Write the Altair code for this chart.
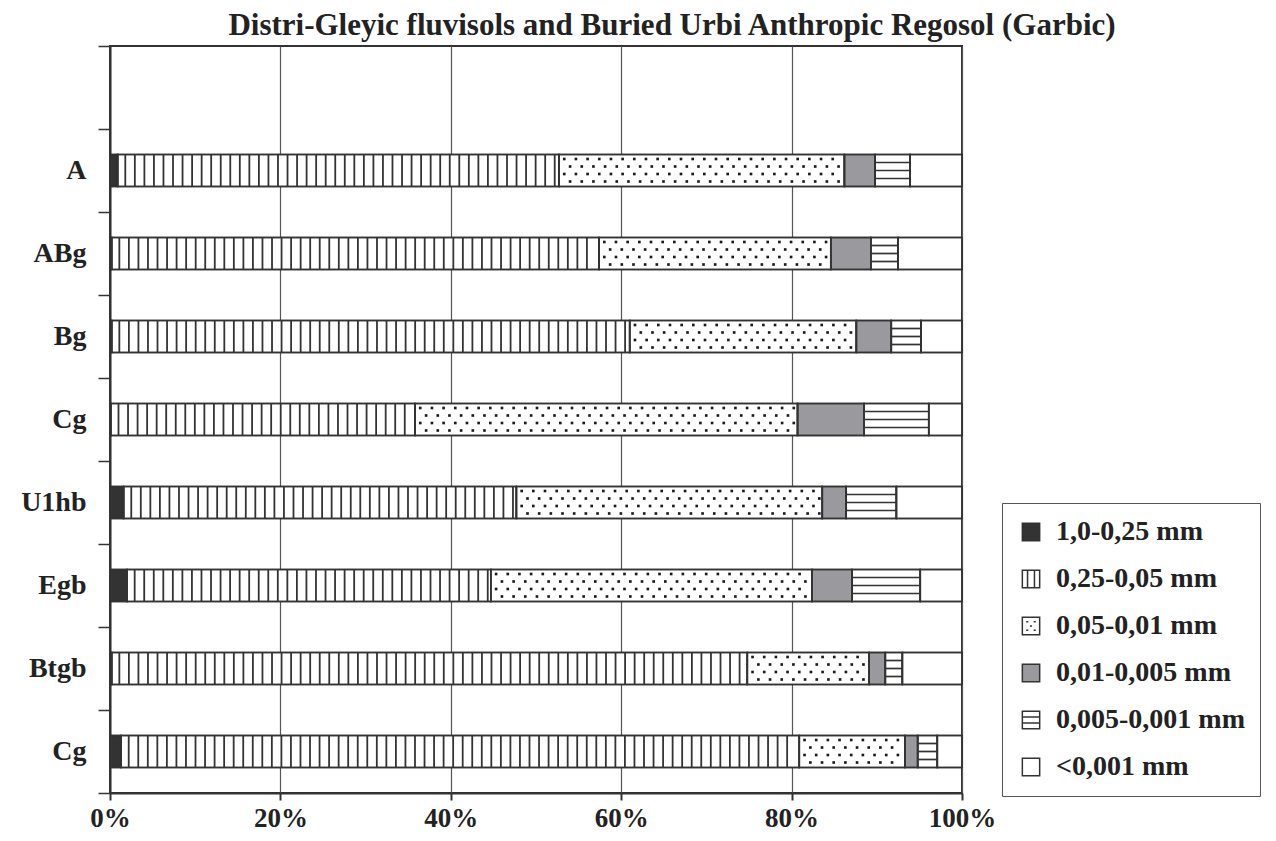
import altair as alt
import pandas as pd

# ---------------- data ----------------
horizons = ["A", "ABg", "Bg", "Cg", "U1hb", "Egb", "Btgb", "Cg"]
classes = ["1,0-0,25 mm", "0,25-0,05 mm", "0,05-0,01 mm",
           "0,01-0,005 mm", "0,005-0,001 mm", "<0,001 mm"]
sand_coarse = [0.9, 0.2, 0.2, 0.1, 1.6, 2.0, 0.2, 1.3]        # 1,0-0,25 mm
sand_fine = [51.8, 57.2, 60.8, 35.7, 46.1, 42.7, 74.6, 79.6]   # 0,25-0,05 mm
silt_coarse = [33.5, 27.2, 26.6, 44.9, 35.9, 37.7, 14.3, 12.4] # 0,05-0,01 mm
silt_medium = [3.6, 4.7, 4.1, 7.8, 2.8, 4.7, 1.9, 1.5]         # 0,01-0,005 mm
silt_fine = [4.1, 3.2, 3.5, 7.6, 5.9, 8.0, 2.0, 2.3]           # 0,005-0,001 mm
clay = [6.1, 7.5, 4.8, 3.9, 7.7, 4.9, 7.0, 2.9]                # <0,001 mm
series = [sand_coarse, sand_fine, silt_coarse, silt_medium, silt_fine, clay]

# ---------------- tables built from the arrays ----------------
keys = [f"{i + 1}|{h}" for i, h in enumerate(horizons)]
domain_keys = ["0|"] + keys

seg_rows = []
for i, k in enumerate(keys):
    s = 0.0
    for c, vals in zip(classes, series):
        v = vals[i]
        seg_rows.append({"key": k, "cls": c, "start": s, "end": s + v, "pct": v})
        s += v
seg = pd.DataFrame(seg_rows)

V_STEP = 1.12   # spacing of vertical hatch (in % units)
D_STEP = 1.37   # spacing of dots (in % units)
DOT_ROWS = [-11.5, -4.0, 3.5, 11.0]
HLINES = [-8, 0, 8]

vx, dots, hseg = [], [], []
for _, r in seg.iterrows():
    s, e = r["start"], r["end"]
    if r["cls"] == classes[1]:
        x = s + V_STEP * 0.8
        while x < e - 0.35:
            vx.append({"key": r["key"], "x": x})
            x += V_STEP
    elif r["cls"] == classes[2]:
        for ri in range(len(DOT_ROWS)):
            x = s + D_STEP * (0.45 + 0.5 * (ri % 2))
            while x < e - 0.3:
                dots.append({"key": r["key"], "x": x, "row": ri})
                x += D_STEP
    elif r["cls"] == classes[4]:
        hseg.append({"key": r["key"], "start": s, "end": e})
vx = pd.DataFrame(vx)
dots = pd.DataFrame(dots)
hseg = pd.DataFrame(hseg)

# ---------------- styling ----------------
FONT = "Liberation Serif"
INK = "#333333"
fill_range = ["#333333", "#ffffff", "#ffffff", "#9a9a9e", "#ffffff", "#ffffff"]
SQ = "M-1,-1H1V1H-1Z"
shape_range = [
    SQ,
    SQ + " M-0.4,-1V1 M0.4,-1V1",
    SQ + " M-0.55,-0.5h0.24 M0.31,-0.5h0.24 M-0.12,0h0.24 M-0.55,0.5h0.24 M0.31,0.5h0.24",
    SQ,
    SQ + " M-1,-0.35H1 M-1,0.35H1",
    SQ,
]
fill_scale = alt.Scale(domain=classes, range=fill_range)
shape_scale = alt.Scale(domain=classes, range=shape_range)
stroke_scale = alt.Scale(domain=classes, range=[INK] * len(classes))

y_scale = alt.Scale(domain=domain_keys, paddingInner=0, paddingOuter=0)
x_scale = alt.Scale(domain=[0, 100], nice=False, zero=True)

y_axis = alt.Axis(
    title=None, labelExpr="split(datum.value, '|')[1]", tickBand="extent",
    labelFont=FONT, labelFontWeight="bold", labelFontSize=28, labelColor="#222",
    labelPadding=12, tickSize=12, tickColor=INK, tickWidth=1.5,
    domainColor=INK, domainWidth=2, grid=False,
)
x_axis = alt.Axis(
    title=None, values=[0, 20, 40, 60, 80, 100], labelExpr="datum.value + '%'",
    labelFont=FONT, labelFontWeight="bold", labelFontSize=27, labelColor="#222",
    labelPadding=5, tickSize=7, tickColor=INK, tickWidth=2,
    domainColor=INK, domainWidth=2, grid=True, gridColor="#555", gridWidth=1.2,
    labelFlush=False,
)
legend = alt.Legend(
    title=None, orient="none", legendX=892, legendY=457,
    labelFont=FONT, labelFontWeight="bold", labelFontSize=28, labelColor="#222",
    symbolSize=300, symbolStrokeColor=INK, symbolStrokeWidth=1.5, symbolOpacity=1,
    rowPadding=19, padding=15, labelOffset=11, strokeColor="#555",
    fillColor="white", labelLimit=400,
)

def X(field):
    return alt.X(field, scale=x_scale, axis=x_axis)

Y = alt.Y("key:N", scale=y_scale, axis=y_axis)

bars = alt.Chart(seg).mark_bar(size=32, stroke=INK, strokeWidth=1.6).encode(
    x=X("start:Q"),
    x2="end:Q",
    y=Y,
    fill=alt.Fill("cls:N", scale=fill_scale, legend=legend),
)

vlines = alt.Chart(vx).mark_tick(size=31, thickness=1.8, color=INK, opacity=1).encode(
    x=X("x:Q"),
    y=Y,
)

dot_layers = []
for ri, off in enumerate(DOT_ROWS):
    dot_layers.append(
        alt.Chart(dots).transform_filter(f"datum.row == {ri}")
        .mark_square(size=7, color="#1a1a1a", opacity=1, yOffset=off)
        .encode(x=X("x:Q"), y=Y)
    )

h_layers = []
for off in HLINES:
    h_layers.append(
        alt.Chart(hseg).mark_rule(color=INK, strokeWidth=1.7, yOffset=off)
        .encode(x=X("start:Q"), x2="end:Q", y=Y)
    )

outline = alt.Chart(seg).mark_bar(size=32, stroke=INK, strokeWidth=1.6, fillOpacity=0).encode(
    x=X("start:Q"),
    x2="end:Q",
    y=Y,
)

legend_layer = alt.Chart(seg).transform_filter("false").mark_point(
    filled=True, strokeWidth=1.5, opacity=1
).encode(
    x=X("start:Q"),
    y=Y,
    fill=alt.Fill("cls:N", scale=fill_scale, legend=legend),
    shape=alt.Shape("cls:N", scale=shape_scale, legend=legend),
    stroke=alt.Stroke("cls:N", scale=stroke_scale, legend=legend),
)

chart = alt.layer(bars, vlines, *dot_layers, *h_layers, outline, legend_layer).properties(
    width=852, height=747,
    padding={"left": 102, "top": 38, "right": 306, "bottom": 39},
    autosize=alt.AutoSizeParams(type="none"),
    title=alt.TitleParams(
        "Distri-Gleyic fluvisols and Buried Urbi Anthropic Regosol (Garbic)",
        font=FONT, fontWeight="bold", fontSize=31, color="#222",
        anchor="middle", dx=136, dy=18, offset=8,
    ),
).configure_view(stroke=INK, strokeWidth=2)

chart.save("out.html", embed_options={"renderer": "svg", "actions": False})
